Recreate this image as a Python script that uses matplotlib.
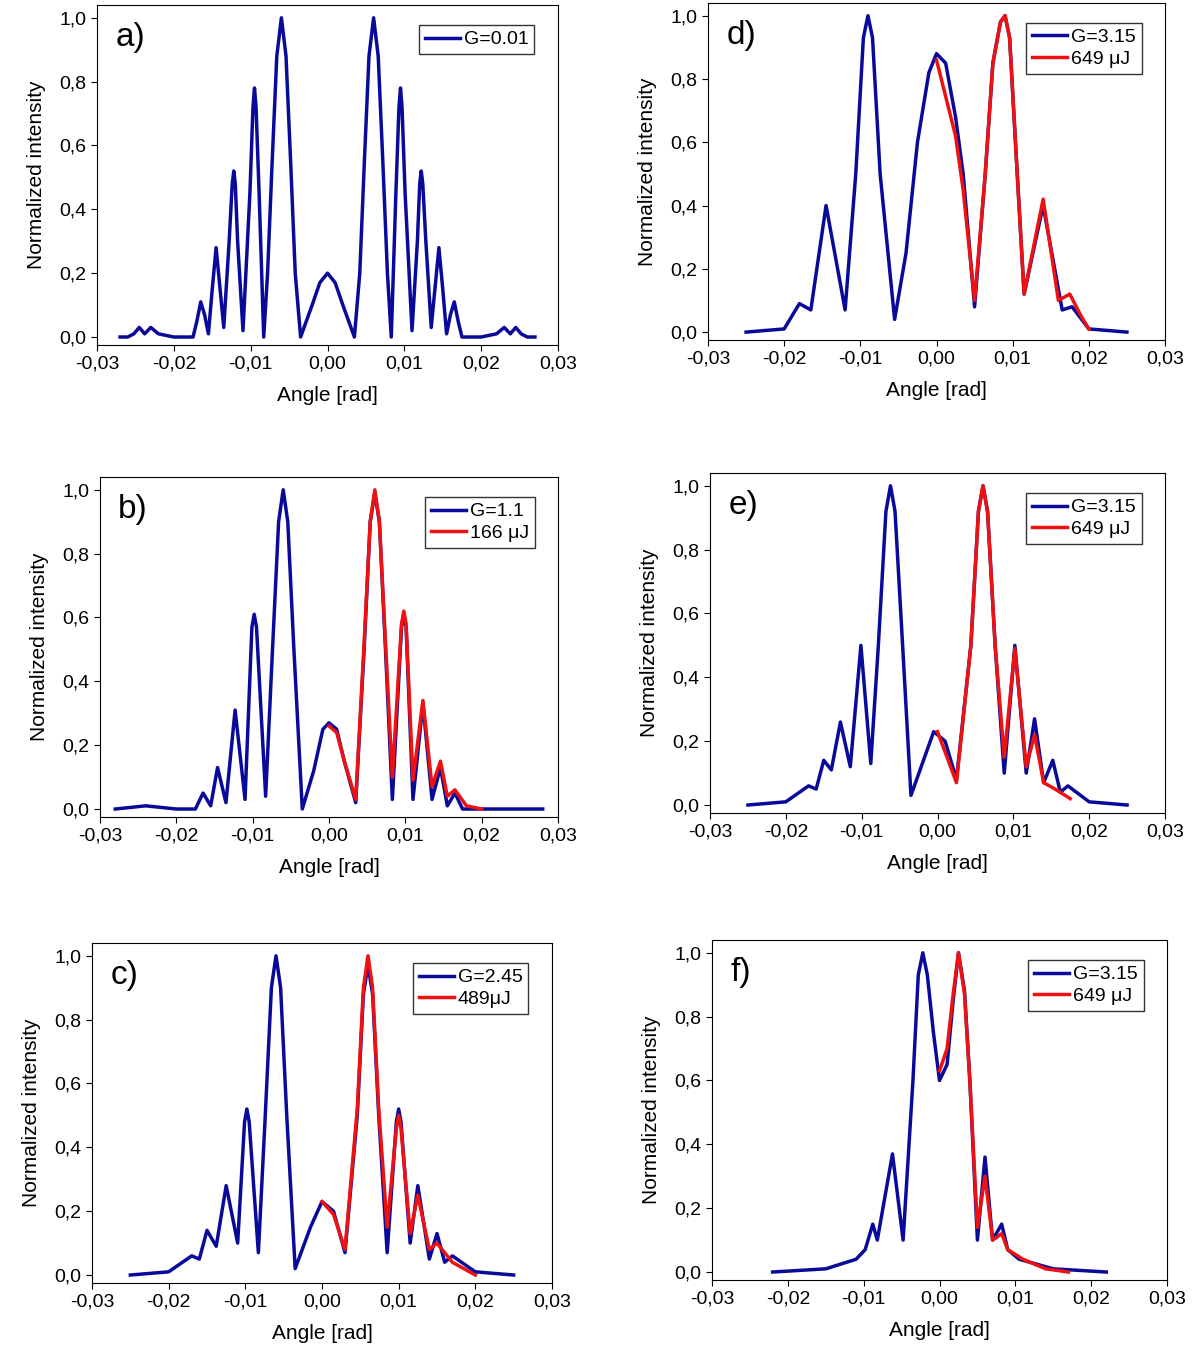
import numpy as np
import matplotlib.pyplot as plt

plt.rcParams['font.family'] = ['Liberation Sans', 'DejaVu Sans']

BLUE = '#0a0a9a'
RED = '#ee1111'

# panel a, right half (mirrored)
a_x_half = [0, 0.001, 0.002, 0.0035, 0.0042, 0.0048, 0.0054, 0.006, 0.0066, 0.0072, 0.0078, 0.0083,
            0.0089, 0.0093, 0.0095, 0.0097, 0.0101, 0.011, 0.0117, 0.012, 0.0122, 0.0124, 0.0128, 0.0135,
            0.0141, 0.0145, 0.015, 0.0155, 0.016, 0.0165, 0.017, 0.0175, 0.02, 0.022, 0.023, 0.0238,
            0.0245, 0.0252, 0.026, 0.027]
a_y_half = [0.2, 0.17, 0.1, 0.0, 0.2, 0.55, 0.88, 1.0, 0.88, 0.55, 0.2, 0.0, 0.45, 0.72, 0.78, 0.72,
            0.45, 0.02, 0.3, 0.48, 0.52, 0.48, 0.3, 0.03, 0.18, 0.28, 0.15, 0.01, 0.07, 0.11, 0.05, 0.0,
            0.0, 0.01, 0.03, 0.01, 0.03, 0.01, 0.0, 0.0]
a_x = [-v for v in a_x_half[::-1]] + a_x_half[1:]
a_y = a_y_half[::-1] + a_y_half[1:]

b_x = [-0.028, -0.024, -0.02, -0.0175, -0.0165, -0.0155, -0.0146, -0.0135, -0.0123, -0.011, -0.0101,
       -0.0098, -0.0095, -0.0083, -0.0074, -0.0066, -0.006, -0.0054, -0.0046, -0.0035, -0.002, -0.0008,
       0, 0.001, 0.002, 0.0035, 0.0046, 0.0054, 0.006, 0.0066, 0.0074, 0.0083, 0.0095, 0.0098, 0.0101,
       0.011, 0.0123, 0.0135, 0.0146, 0.0155, 0.0165, 0.0175, 0.02, 0.028]
b_y = [0, 0.01, 0, 0.0, 0.05, 0.01, 0.13, 0.02, 0.31, 0.03, 0.57, 0.61, 0.57, 0.04, 0.5, 0.9, 1.0, 0.9,
       0.5, 0.0, 0.12, 0.25, 0.27, 0.25, 0.15, 0.02, 0.5, 0.9, 0.99, 0.9, 0.5, 0.03, 0.57, 0.61, 0.57,
       0.03, 0.33, 0.03, 0.13, 0.01, 0.05, 0, 0, 0]
b_rx = [0, 0.001, 0.002, 0.0035, 0.0046, 0.0054, 0.006, 0.0066, 0.0074, 0.0083, 0.0095, 0.0098, 0.0101,
        0.011, 0.0123, 0.0135, 0.0146, 0.0155, 0.0165, 0.018, 0.02]
b_ry = [0.26, 0.24, 0.15, 0.03, 0.52, 0.9, 1.0, 0.9, 0.52, 0.1, 0.58, 0.62, 0.58, 0.09, 0.34, 0.07, 0.15,
        0.04, 0.06, 0.01, 0]

c_x = [-0.025, -0.02, -0.017, -0.016, -0.015, -0.0138, -0.0125, -0.011, -0.0101, -0.0098, -0.0095,
       -0.0083, -0.0074, -0.0066, -0.006, -0.0054, -0.0046, -0.0035, -0.0015, 0, 0.0015, 0.003, 0.0046,
       0.0054, 0.006, 0.0066, 0.0074, 0.0085, 0.0097, 0.01, 0.0103, 0.0115, 0.0125, 0.014, 0.015, 0.016,
       0.017, 0.02, 0.025]
c_y = [0, 0.01, 0.06, 0.05, 0.14, 0.09, 0.28, 0.1, 0.48, 0.52, 0.48, 0.07, 0.5, 0.9, 1.0, 0.9, 0.5, 0.02,
       0.15, 0.23, 0.2, 0.07, 0.5, 0.88, 0.97, 0.88, 0.5, 0.07, 0.48, 0.52, 0.48, 0.1, 0.28, 0.05, 0.13,
       0.04, 0.06, 0.01, 0]
c_rx = [0, 0.0015, 0.003, 0.0046, 0.0054, 0.006, 0.0066, 0.0074, 0.0085, 0.0097, 0.01, 0.0103, 0.0115,
        0.0125, 0.014, 0.015, 0.017, 0.02]
c_ry = [0.23, 0.19, 0.08, 0.52, 0.9, 1.0, 0.9, 0.52, 0.15, 0.46, 0.5, 0.46, 0.13, 0.25, 0.08, 0.1, 0.04, 0]

d_x = [-0.025, -0.02, -0.018, -0.0165, -0.0145, -0.012, -0.0106, -0.0096, -0.009, -0.0084, -0.0074,
       -0.0055, -0.004, -0.0025, -0.001, 0, 0.0012, 0.0025, 0.0035, 0.005, 0.0064, 0.0074, 0.0084, 0.009,
       0.0096, 0.0106, 0.0115, 0.014, 0.0165, 0.0178, 0.02, 0.025]
d_y = [0, 0.01, 0.09, 0.07, 0.4, 0.07, 0.5, 0.93, 1.0, 0.93, 0.5, 0.04, 0.25, 0.6, 0.82, 0.88, 0.85,
       0.68, 0.5, 0.08, 0.5, 0.85, 0.98, 1.0, 0.93, 0.5, 0.12, 0.4, 0.07, 0.08, 0.01, 0]
d_rx = [0, 0.0025, 0.0035, 0.005, 0.0064, 0.0074, 0.0084, 0.009, 0.0096, 0.0106, 0.0115, 0.014, 0.016,
        0.0175, 0.019, 0.02]
d_ry = [0.86, 0.62, 0.45, 0.1, 0.5, 0.85, 0.98, 1.0, 0.93, 0.5, 0.12, 0.42, 0.1, 0.12, 0.05, 0.01]

e_x = [-0.025, -0.02, -0.017, -0.016, -0.015, -0.014, -0.0128, -0.0115, -0.0101, -0.0088, -0.0078,
       -0.0068, -0.0062, -0.0056, -0.0046, -0.0035, -0.0005, 0.001, 0.0025, 0.0044, 0.0054, 0.006, 0.0066,
       0.0076, 0.0088, 0.0102, 0.0117, 0.0128, 0.014, 0.0152, 0.0162, 0.0172, 0.02, 0.025]
e_y = [0, 0.01, 0.06, 0.05, 0.14, 0.11, 0.26, 0.12, 0.5, 0.13, 0.5, 0.92, 1.0, 0.92, 0.5, 0.03, 0.23, 0.2,
       0.08, 0.5, 0.92, 1.0, 0.92, 0.5, 0.1, 0.5, 0.1, 0.27, 0.07, 0.14, 0.04, 0.06, 0.01, 0]
e_rx = [0, 0.0025, 0.0044, 0.0054, 0.006, 0.0066, 0.0076, 0.0088, 0.0102, 0.0117, 0.0128, 0.014, 0.0155,
        0.0175]
e_ry = [0.23, 0.07, 0.5, 0.92, 1.0, 0.92, 0.5, 0.15, 0.49, 0.12, 0.22, 0.07, 0.05, 0.02]

f_x = [-0.022, -0.015, -0.011, -0.0098, -0.0088, -0.0082, -0.0062, -0.0048, -0.0035, -0.0028, -0.0022,
       -0.0016, -0.0008, 0, 0.001, 0.0018, 0.0025, 0.0033, 0.004, 0.005, 0.006, 0.007, 0.0082, 0.009,
       0.0105, 0.015, 0.022]
f_y = [0, 0.01, 0.04, 0.07, 0.15, 0.1, 0.37, 0.1, 0.6, 0.93, 1.0, 0.93, 0.75, 0.6, 0.65, 0.85, 1.0, 0.88,
       0.6, 0.1, 0.36, 0.1, 0.15, 0.07, 0.04, 0.01, 0]
f_rx = [0, 0.001, 0.0018, 0.0025, 0.0033, 0.004, 0.005, 0.006, 0.007, 0.0082, 0.009, 0.011, 0.014, 0.017]
f_ry = [0.63, 0.7, 0.87, 1.0, 0.87, 0.6, 0.14, 0.3, 0.1, 0.12, 0.07, 0.04, 0.01, 0]

panels = [
    # letter, rect (l, b, w, h) in pixels, blue, red, legend labels
    ('a)', (97, 1354 - 345, 461, 340), (a_x, a_y), None, ['G=0.01']),
    ('b)', (100, 1354 - 817, 458, 340), (b_x, b_y), (b_rx, b_ry), ['G=1.1', '166 μJ']),
    ('c)', (92, 1354 - 1283, 460, 340), (c_x, c_y), (c_rx, c_ry), ['G=2.45', '489μJ']),
    ('d)', (708, 1354 - 340, 457, 337), (d_x, d_y), (d_rx, d_ry), ['G=3.15', '649 μJ']),
    ('e)', (710, 1354 - 813, 455, 340), (e_x, e_y), (e_rx, e_ry), ['G=3.15', '649 μJ']),
    ('f)', (712, 1354 - 1280, 455, 340), (f_x, f_y), (f_rx, f_ry), ['G=3.15', '649 μJ']),
]
xticks = [-0.03, -0.02, -0.01, 0.0, 0.01, 0.02, 0.03]
xlabels = ['-0,03', '-0,02', '-0,01', '0,00', '0,01', '0,02', '0,03']
yticks = [0.0, 0.2, 0.4, 0.6, 0.8, 1.0]
ylabels = ['0,0', '0,2', '0,4', '0,6', '0,8', '1,0']

fig = plt.figure(figsize=(12, 13.54), dpi=100)
for letter, (l, b, w, h), blue, red, labels in panels:
    ax = fig.add_axes([l / 1200, b / 1354, w / 1200, h / 1354])
    ax.plot(blue[0], blue[1], color=BLUE, lw=2.5, label=labels[0])
    if red is not None:
        ax.plot(red[0], red[1], color=RED, lw=2.5, label=labels[1])
    ax.set_xlim(-0.03, 0.03)
    ax.set_ylim(-0.025, 1.04)
    ax.set_xticks(xticks, xlabels)
    ax.set_yticks(yticks, ylabels)
    ax.tick_params(labelsize=14, direction='out', length=4)
    ax.set_xlabel('Angle [rad]', fontsize=15, labelpad=10)
    ax.set_ylabel('Normalized intensity', fontsize=15, labelpad=10)
    ax.text(0.04, 0.95, letter, transform=ax.transAxes, fontsize=24, va='top')
    leg = ax.legend(loc='upper right', fontsize=14, frameon=True, fancybox=False,
                    handlelength=1.8, handletextpad=0.2, borderpad=0.3, labelspacing=0.2,
                    bbox_to_anchor=(0.97, 0.97))
    leg.get_frame().set_edgecolor('black')
    leg.get_frame().set_linewidth(1)

fig.savefig('out.png')
